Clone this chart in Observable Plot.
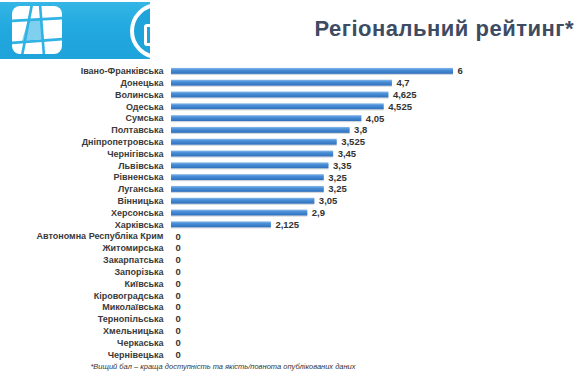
<!DOCTYPE html>
<html>
<head>
<meta charset="utf-8">
<script src="https://cdn.jsdelivr.net/npm/d3@7"></script>
<script src="https://cdn.jsdelivr.net/npm/@observablehq/plot@0.6"></script>
<style>
  html, body { margin: 0; padding: 0; background: #fff; }
  #page { position: relative; width: 580px; height: 378px; overflow: hidden; font-family: "Liberation Sans", Arial, sans-serif; }
  #logo { position: absolute; left: 0; top: 2px; width: 150px; height: 57px; overflow: hidden;
          background: linear-gradient(180deg, #34b6e6 0%, #22a9df 45%, #1ea3da 100%); }
  #sq { position: absolute; left: 12px; top: 4px; width: 50px; height: 48px; background: #fff; border-radius: 8px; overflow: hidden; }
  #ring { position: absolute; left: 130px; top: 1px; width: 56px; height: 56px; border-radius: 50%; background: #1ea3da; border: 4px solid #fff; box-sizing: border-box; }
  #ringInner { position: absolute; left: 10px; top: 17px; width: 20px; height: 16px; border: 3px solid #fff; border-radius: 3px; }
  #title { position: absolute; right: 6px; top: 16px; font-size: 22px; letter-spacing: 0.5px; font-weight: bold; color: #3d4b63; white-space: nowrap; }
  #chart { position: absolute; left: 0; top: 0; }
  #note { position: absolute; left: 0; width: 446px; top: 362px; text-align: center; font-size: 7.5px; font-style: italic; color: #333; }
</style>
</head>
<body>
<div id="page">
  <div id="logo">
    <div id="sq">
      <svg width="50" height="48" viewBox="0 0 50 48">
        <polygon points="16,14 30,13 31,33 10,35" fill="#7fd0ee"/>
        <g stroke="#2fb2e4" stroke-width="2.6" fill="none">
          <line x1="20" y1="-2" x2="10" y2="50"/>
          <line x1="28" y1="-2" x2="32" y2="50"/>
          <line x1="-2" y1="15" x2="52" y2="12"/>
          <line x1="-2" y1="37" x2="52" y2="33"/>
        </g>
      </svg>
    </div>
    <div id="ring"><div id="ringInner"></div></div>
  </div>
  <div id="title">Регіональний рейтинг*</div>
  <div id="chart"></div>
  <div id="note">*Вищий бал – краща доступність та якість/повнота опублікованих даних</div>
</div>
<script>
const regions = ["Івано-Франківська","Донецька","Волинська","Одеська","Сумська","Полтавська","Дніпропетровська","Чернігівська","Львівська","Рівненська","Луганська","Вінницька","Херсонська","Харківська","Автономна Республіка Крим","Житомирська","Закарпатська","Запорізька","Київська","Кіровоградська","Миколаївська","Тернопільська","Хмельницька","Черкаська","Чернівецька"];
const scores = [6,4.7,4.625,4.525,4.05,3.8,3.525,3.45,3.35,3.25,3.25,3.05,2.9,2.125,0,0,0,0,0,0,0,0,0,0,0];
const data = regions.map((r, i) => ({region: r, score: scores[i]}));
const fmt = v => String(v).replace(".", ",");

const chart = Plot.plot({
  width: 580,
  height: 378,
  marginLeft: 171,
  marginRight: 127,
  marginTop: 62,
  marginBottom: 15,
  style: {fontFamily: "Liberation Sans, Arial, sans-serif", background: "transparent", overflow: "visible"},
  x: {domain: [0, 6], axis: null},
  y: {domain: regions, padding: 0.5, paddingOuter: 0.5, round: false, axis: null},
  marks: [
    Plot.barX(data, {y: "region", x: "score", fill: "#9aa6b4", fillOpacity: 0.45, dy: 1.2}),
    Plot.barX(data, {y: "region", x: "score", fill: "url(#barGrad)"}),
    Plot.ruleX([0], {stroke: "#d4d4d4", strokeWidth: 1, y1: regions[0], y2: regions[regions.length - 1], insetTop: -6, insetBottom: -6}),
    Plot.axisY({tickSize: 0, tickPadding: 8, fontSize: 9, fontWeight: "bold", fill: "#3a3a3a", label: null}),
    Plot.text(data, {y: "region", x: "score", text: d => fmt(d.score), dx: 4, textAnchor: "start", fontSize: 9.5, fontWeight: "bold", fill: "#333"})
  ]
});

const ns = "http://www.w3.org/2000/svg";
const defs = document.createElementNS(ns, "defs");
defs.innerHTML = `<linearGradient id="barGrad" x1="0" y1="0" x2="0" y2="1">
  <stop offset="0" stop-color="#8dbcec"/>
  <stop offset="0.35" stop-color="#4a8fd8"/>
  <stop offset="1" stop-color="#2f70bd"/>
</linearGradient>`;
chart.insertBefore(defs, chart.firstChild);
document.getElementById("chart").appendChild(chart);
</script>
</body>
</html>
